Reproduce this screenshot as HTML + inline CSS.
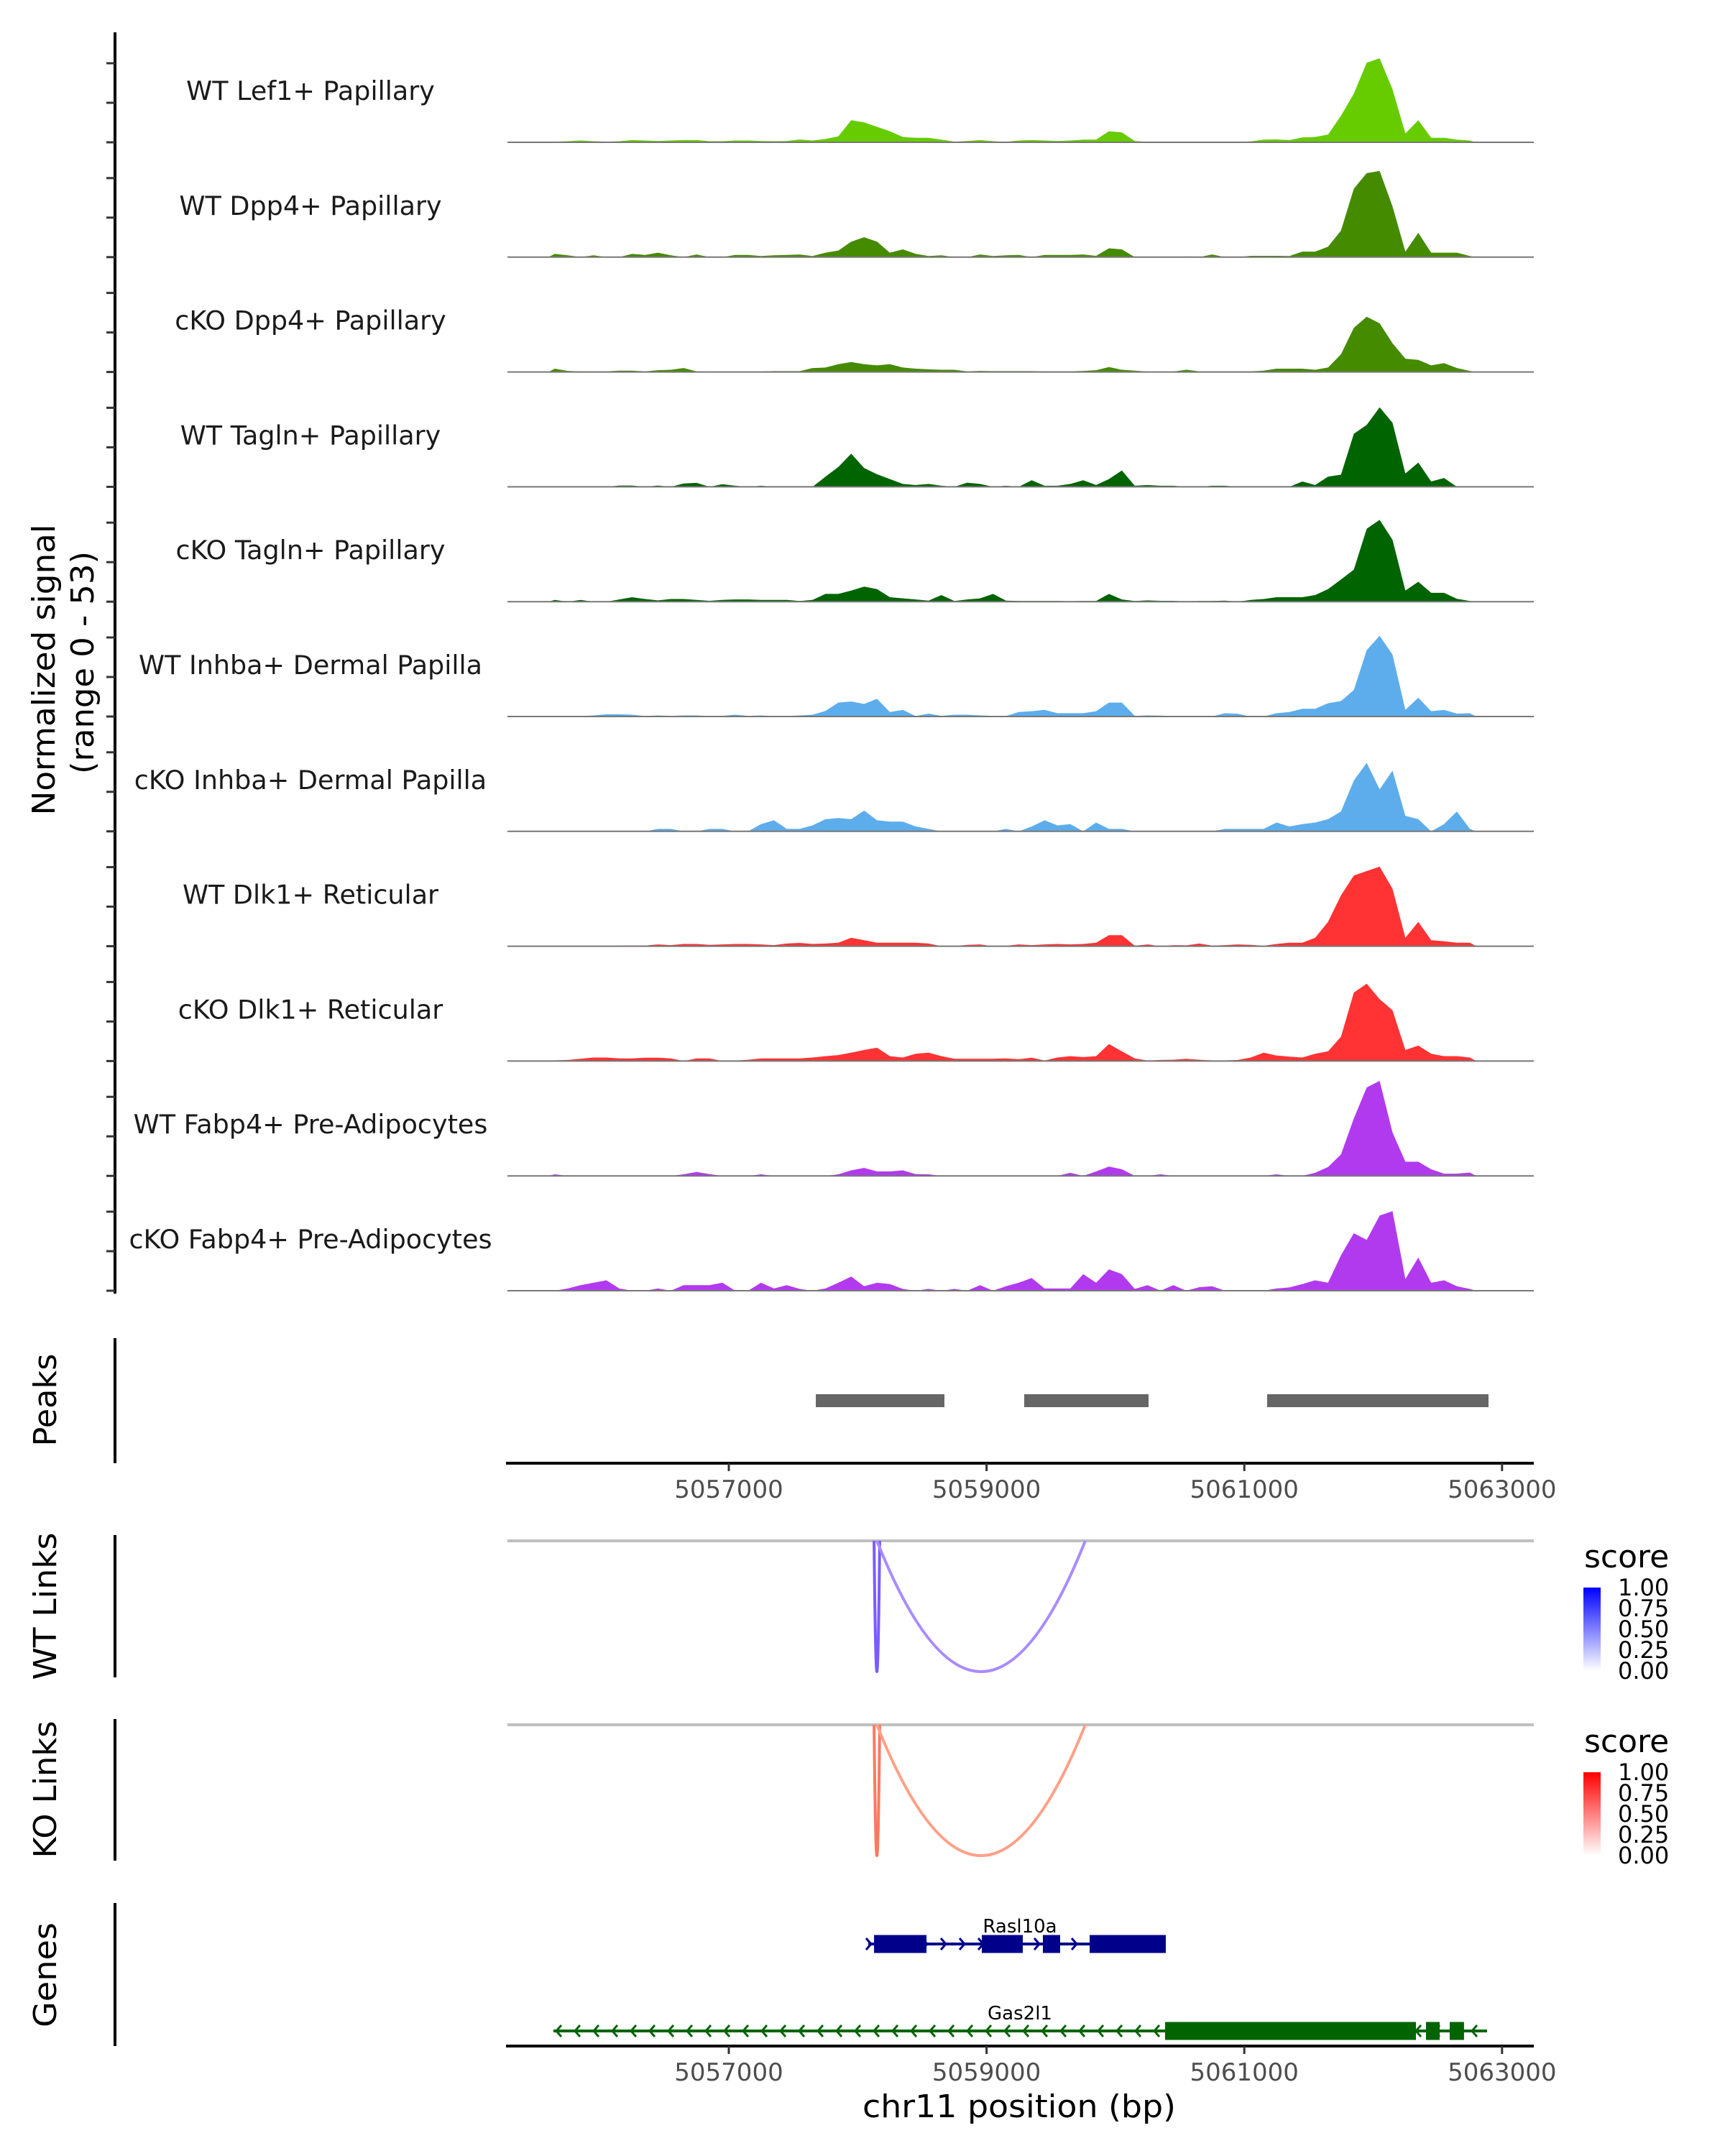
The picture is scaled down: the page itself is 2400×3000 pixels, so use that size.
<!DOCTYPE html>
<html><head><meta charset="utf-8"><style>
html,body{margin:0;padding:0;background:#fff;}
svg{display:block;}
text{font-family:"DejaVu Sans","Liberation Sans",sans-serif;}
</style></head>
<body>
<svg id="chart" width="2400" height="3000" viewBox="0 0 2400 3000" xmlns="http://www.w3.org/2000/svg">
<defs>
<linearGradient id="gradWT" x1="0" y1="1" x2="0" y2="0"><stop offset="0" stop-color="#ffffff"/><stop offset="1" stop-color="#0000ff"/></linearGradient>
<linearGradient id="gradKO" x1="0" y1="1" x2="0" y2="0"><stop offset="0" stop-color="#ffffff"/><stop offset="1" stop-color="#ff0000"/></linearGradient>
</defs>
<text transform="translate(76,932) rotate(-90)" text-anchor="middle" font-size="44" textLength="405" lengthAdjust="spacingAndGlyphs">Normalized signal</text>
<text transform="translate(130,922) rotate(-90)" text-anchor="middle" font-size="44" textLength="310" lengthAdjust="spacingAndGlyphs">(range 0 - 53)</text>
<text transform="translate(78,1948) rotate(-90)" text-anchor="middle" font-size="44" textLength="129" lengthAdjust="spacingAndGlyphs">Peaks</text>
<text transform="translate(78,2235) rotate(-90)" text-anchor="middle" font-size="44" textLength="205" lengthAdjust="spacingAndGlyphs">WT Links</text>
<text transform="translate(78,2490) rotate(-90)" text-anchor="middle" font-size="44" textLength="191" lengthAdjust="spacingAndGlyphs">KO Links</text>
<text transform="translate(78,2748) rotate(-90)" text-anchor="middle" font-size="44" textLength="146" lengthAdjust="spacingAndGlyphs">Genes</text>
<text x="1418" y="2946" text-anchor="middle" font-size="44" textLength="436" lengthAdjust="spacingAndGlyphs">chr11 position (bp)</text>
<g>
<text x="2204" y="2181" font-size="44">score</text>
<rect x="2203" y="2209" width="24" height="116" fill="url(#gradWT)"/>
</g>
<g>
<text x="2204" y="2438" font-size="44">score</text>
<rect x="2203" y="2466" width="24" height="116" fill="url(#gradKO)"/>
</g>
<g id="plot"></g>
</svg>
<script>
// ---- data ----
const binSize = 100;
const binStart = 5055600;
const xTicks = [5057000, 5059000, 5061000, 5063000];
const trackNames = ["WT Lef1+ Papillary","WT Dpp4+ Papillary","cKO Dpp4+ Papillary","WT Tagln+ Papillary","cKO Tagln+ Papillary","WT Inhba+ Dermal Papilla","cKO Inhba+ Dermal Papilla","WT Dlk1+ Reticular","cKO Dlk1+ Reticular","WT Fabp4+ Pre-Adipocytes","cKO Fabp4+ Pre-Adipocytes"];
const trackColors = ["#66cc00","#458b00","#458b00","#006400","#006400","#5dadec","#5dadec","#ff3333","#ff3333","#b23aee","#b23aee"];
const lef1WT = [0.3,0.5,0.8,0.5,0.3,0.5,1.0,0.8,0.6,0.8,1.0,1.0,0.5,0.5,0.8,0.8,0.6,0.5,0.6,1.3,0.8,1.5,2.7,10,9,7,5,2.4,2,2,1.2,0.3,0.6,1.0,0.5,0.2,0.8,1.0,0.8,0.6,0.8,1.2,1.2,5,4.5,0.6,0.2,0.2,0.2,0.2,0.2,0.2,0.2,0.2,0.4,1.2,1.3,1.0,2.2,2.4,3.5,12,22,36,38,24,4,10,2,2,1.2,0.8];
const dpp4WT = [1.5,0.8,0,0.8,0,0,1.5,1,2,0.8,0,1.2,0,0,1,1,0.5,0.8,1,1.2,0.5,2,3,7,9,7,2,3.5,1.5,0.5,0.8,0,0,1.2,0.5,0.8,1,0,1,1,1,1.2,0.6,4,3.5,0,0,0,0,0.3,0,1.2,0,0,0.6,0.6,0.6,0.5,2.5,2.5,4.7,12,31,38,39,23,2.5,11,2,2,2,0.5];
const dpp4KO = [1.5,0.5,0.3,0.3,0.3,0.6,0.6,0.3,0.8,1,1.8,0.3,0.2,0.2,0.2,0,0.2,0.4,0.4,0.4,1.8,2,3.5,4.5,3.5,3,3.5,2,1.5,1.2,1,1,0.3,0.5,0.4,0.4,0.4,0.4,0.3,0.3,0.3,0.5,0.8,2.2,1,0.6,0.2,0,0.2,1,0.3,0.3,0.3,0.3,0.3,0.6,1.5,1.5,1.5,1,2,8,20,25,22,13,6,5.5,3,4,1.8,0.5];
const taglnWT = [0,0.3,0,0,0,0.6,0.6,0,0.6,0,1.5,1.8,0,1.2,0.5,0,0.5,0,0,0,0,4.6,9,15,8.5,5.7,3.5,1.3,0.8,1.3,0.5,0,1.9,1.3,0,0.5,0,3,0.5,0.5,1.3,3,0.8,3.5,7.4,0.5,0.8,0.5,0.5,0,0,0.5,0.5,0,0,0,0,0,2.4,0.8,4.6,5.5,24,28,36,29,6,11,2.4,4,0,0];
const taglnKO = [0.8,0,0.8,0,0,1,2,1.2,0.6,1.2,1.2,0.8,0.4,0.8,1,1,0.8,0.8,0.8,0.3,0.8,3.5,3.5,5,6.8,5.7,2,1.5,1,0.5,3,0.3,1,1.5,3.5,0.5,0.3,0.3,0.3,0.3,0.2,0.3,0.3,3.5,1,0.3,0.6,0.4,0.4,0,0.3,0.3,0.5,0,0.8,1.2,2,2,2,3,5.7,10,14.5,33,37,28,5,9,4,4,1.3,0.3];
const inhbaWT = [0.3,0.3,0.2,0.5,1,1,0.8,0.2,0.5,0.3,0.5,0.5,0.2,0.3,0.8,0.3,0.5,0.2,0.2,0.5,0.8,2.5,6.3,6.8,5.7,8,2,3,0.2,1.3,0.3,0.8,0.8,0.5,0.3,0.2,2,2.4,3,1.5,1.5,1.5,2.4,6.3,6.3,0.3,0.5,0.4,0.2,0,0,0,1.5,1.2,0,0,1.5,2,3.5,3.5,6,7,12,30,36.5,28,3,8.5,2.4,3,1.3,1.5];
const inhbaKO = [0,0,0,0,0,0,0,0,1.1,1.1,0,0,1.1,1.1,0,0,3.3,5,1.1,1.1,2.7,5.5,6,5.5,9.4,5,4.4,4.4,2.2,1.1,0,0,0,0,0,1.1,0,2.2,5,2.7,3.3,0,4,1.1,1.1,0,0,0,0,0,0,0,1.1,1.1,1.1,1.1,4,2.2,3.3,4,5.5,9,23,31,19,27.5,7,5.5,0,3.3,9,1.1];
const dlk1WT = [0,0,0,0,0,0.3,0.3,0.3,0.8,0.5,1,1,0.6,0.8,1,1,0.8,0.5,1.2,1.5,1,1.2,1.6,3.8,2.7,1.6,1.6,1.6,1.6,1.2,0,0,0.6,0.8,0,0.2,0.8,0.5,0.8,1,0.8,1,1.6,5,5,0.2,0.8,0,0.5,0.4,1.2,0.3,0.5,0.8,0.6,0.2,1,1.6,1.6,3.8,11,23,32,34,36,26,3.8,11,2.7,2.2,1.6,1.6];
const dlk1KO = [0.3,0.5,1,1.6,1.6,1.2,1.2,1.5,1.5,1.2,0,1.2,1.2,0,0.2,0.6,1.2,1.2,1.2,1.2,1.6,2.2,2.7,3.8,5,6,2.2,1.6,3.3,3.8,2.2,1,1,1,1,1.2,0.8,1.5,0.2,1.6,2.2,1.8,2.2,7.7,4.4,1.2,0.2,0.5,0.6,1,0.6,0.3,0.3,0.5,1.6,3.8,2.5,2,1.6,3.3,4.4,11,31,35,28,23,5,7,3.3,2.2,2.2,1.6];
const fabp4WT = [0.7,0,0,0,0,0,0,0,0,0,0.7,1.8,0.8,0,0,0,0.7,0,0,0,0,0,0.7,2.5,3.6,2,2,2.5,0.8,0.7,0,0,0,0,0,0,0,0,0,0,1.4,0,2,4.2,3,0,0,0.7,0,0,0,0,0,0,0,0,0.7,0,0,1.4,4,9.7,26,40,43,19.6,6.4,6.4,3,1,1,1.5];
const fabp4KO = [0,1,2.5,3.6,4.7,1,0,0,1,0,2.5,2.5,2.5,3.6,0,0,3.6,1,2.5,0.8,0,1,3.6,6.4,2,3.6,3,0.8,0,0.8,0,0.8,0,2.5,0,2,3.6,5.8,1,1,1,7.5,3.6,9.7,7.5,0.8,2.5,0,2.5,0,1.6,2,0,0,0,0,1,1.5,3,4.7,3.6,16,26,23,34,36,5.3,15,3.6,4.7,2,0.8];
const trackValues = [lef1WT,dpp4WT,dpp4KO,taglnWT,taglnKO,inhbaWT,inhbaKO,dlk1WT,dlk1KO,fabp4WT,fabp4KO];
const peakStarts = [5057675, 5059292, 5061177];
const peakEnds = [5058673, 5060257, 5062895];
const linkStarts = [5058127, 5058149];
const linkEnds = [5058171, 5059766];
const legendTicks = ["1.00","0.75","0.50","0.25","0.00"];
const rasExonStarts = [5058127, 5058963, 5059437, 5059800];
const rasExonEnds = [5058534, 5059281, 5059571, 5060391];
const rasSpan = [5058082, 5060391];
const gasExonStarts = [5060385, 5062410, 5062594];
const gasExonEnds = [5062332, 5062516, 5062705];
const gasSpan = [5055639, 5062884];
const signalMax = 53;

// ---- layout ----
const NS = "http://www.w3.org/2000/svg";
const plotLeft = 706, plotRight = 2134;
const pxPerBp = 0.1793;
function xs(bp){ return 1014 + (bp - 5057000) * pxPerBp; }
const baseline0 = 198, trackStep = 159.8, trackH = 163;
function ys(v, base){ return base - v / signalMax * trackH; }
const plot = document.getElementById('plot');
function mk(tag, attrs, parent){
  const e = document.createElementNS(NS, tag);
  for (const k in attrs) e.setAttribute(k, attrs[k]);
  (parent || plot).appendChild(e);
  return e;
}

let ax = mk('line', {x1:160,y1:45,x2:160,y2:1800,stroke:'#000','stroke-width':4});



trackNames.forEach((name, t) => {
  const base = baseline0 + t * trackStep;
  const g = mk('g', {});
  
  
  [0, 55, 110].forEach(off => {
    const tk = mk('line', {x1:148,x2:160,y1:base-off,y2:base-off,stroke:'#333','stroke-width':3}, g);
    
    
  });
  const vals = trackValues[t];
  let d = 'M' + xs(binStart).toFixed(1) + ',' + base;
  vals.forEach((v, i) => {
    const xc = xs(binStart + (i + 0.5) * binSize);
    d += ' L' + xc.toFixed(1) + ',' + ys(v, base).toFixed(1);
  });
  d += ' L' + xs(binStart + vals.length * binSize).toFixed(1) + ',' + base + ' Z';
  const area = mk('path', {d:d, fill:trackColors[t]}, g);
  
  
  const bl = mk('line', {x1:plotLeft,x2:plotRight,y1:base,y2:base,stroke:'#777','stroke-width':2}, g);
  
  
  const lab = mk('text', {x:432,y:base-59,'text-anchor':'middle','font-size':36.5,fill:'#1a1a1a'}, g);
  lab.textContent = name;
  
  
});

[[1862,2036,'peaks-axis'],[2136,2334,'wt-links-axis'],[2392,2589,'ko-links-axis'],[2648,2847,'genes-axis']].forEach(s => {
  const l = mk('line', {x1:160,x2:160,y1:s[0],y2:s[1],stroke:'#000','stroke-width':4});
  
  
});

peakStarts.forEach((s, i) => {
  const r = mk('rect', {x:xs(s), y:1940, width:xs(peakEnds[i]) - xs(s), height:18, fill:'#666666'});
  
  
});

function xAxis(y, name){
  const g = mk('g', {});
  
  
  mk('line', {x1:plotLeft-2,x2:plotRight,y1:y,y2:y,stroke:'#000','stroke-width':4}, g);
  xTicks.forEach(t => {
    const tk = mk('line', {x1:xs(t),x2:xs(t),y1:y,y2:y+11,stroke:'#333','stroke-width':3}, g);
    
    
    const lb = mk('text', {x:xs(t),y:y+48,'text-anchor':'middle','font-size':34,fill:'#4d4d4d'}, g);
    lb.textContent = String(t);
    
    
  });
}
xAxis(2036, 'peaks-x-axis');
xAxis(2847, 'genes-x-axis');

function links(top, c1, c0, name){
  const g = mk('g', {});
  
  
  const gl = mk('line', {x1:plotLeft,x2:plotRight,y1:top,y2:top,stroke:'#bfbfbf','stroke-width':4}, g);
  
  
  linkStarts.forEach((s, i) => {
    const a = xs(s), b = xs(linkEnds[i]);
    const depth = 182;
    const col = i === 0 ? c1 : c0;
    const p = mk('path', {d:'M'+a+','+top+' Q'+((a+b)/2)+','+(top+2*depth)+' '+b+','+top, fill:'none', stroke:col, 'stroke-width':4}, g);
    
    
  });
}
links(2144, '#7a5cff', '#a98bff', 'wt-links');
links(2400, '#fa7a60', '#ffa088', 'ko-links');

[[2208,'wt'],[2465,'ko']].forEach(L => {
  legendTicks.forEach((t, i) => {
    const lb = mk('text', {x:2251, y:L[0] + i * 29 + 12, 'font-size':32, fill:'#000'});
    lb.textContent = t;
    
    
  });
});

function gene(span, es, ee, y, color, label, dir, name){
  const g = mk('g', {});
  
  
  mk('line', {x1:xs(span[0]),x2:xs(span[1]),y1:y,y2:y,stroke:color,'stroke-width':4}, g);
  const step = 26;
  for (let x = xs(span[0]) + 4; x < xs(span[1]) - 4; x += step) {
    const ch = dir < 0 ? 'M'+(x+7)+','+(y-8)+' L'+x+','+y+' L'+(x+7)+','+(y+8)
                       : 'M'+(x-7)+','+(y-8)+' L'+x+','+y+' L'+(x-7)+','+(y+8);
    mk('path', {d:ch, fill:'none', stroke:color, 'stroke-width':3}, g);
  }
  es.forEach((s, i) => {
    const r = mk('rect', {x:xs(s), y:y-12.5, width:xs(ee[i]) - xs(s), height:25, fill:color}, g);
    
    
  });
  const lb = mk('text', {x:1419, y:y-16, 'text-anchor':'middle', 'font-size':26, fill:'#000'}, g);
  lb.textContent = label;
  
  
}
gene(rasSpan, rasExonStarts, rasExonEnds, 2705, '#00008b', 'Rasl10a', 1, 'gene-rasl10a');
gene(gasSpan, gasExonStarts, gasExonEnds, 2826, '#006400', 'Gas2l1', -1, 'gene-gas2l1');
</script>
</body></html>
